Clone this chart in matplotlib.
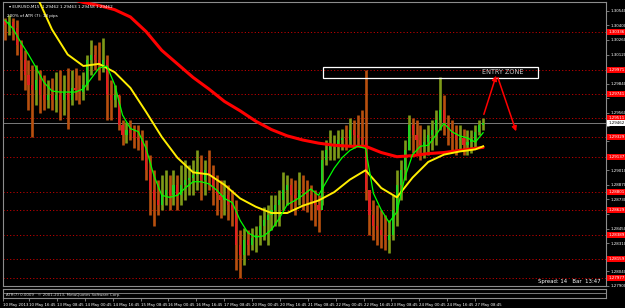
import numpy as np
import matplotlib
matplotlib.use("Agg")
import matplotlib.pyplot as plt
from matplotlib.patches import Rectangle
import matplotlib.transforms as mtransforms

# ---------------- data (EURUSD M15, each entry = one group of 9 bars) ----------------
first_open = 1.3045
high = [1.3047, 1.3050, 1.3047, 1.3045, 1.3026, 1.3016, 1.3007, 1.3002, 1.3002, 1.2997,
        1.2992, 1.2988, 1.2989, 1.2995, 1.2997, 1.2992, 1.2999, 1.2997, 1.2999, 1.2992,
        1.2995, 1.3012, 1.3026, 1.3021, 1.3024, 1.3028, 1.3012, 1.2988, 1.2983, 1.2973,
        1.2949, 1.2947, 1.2949, 1.2944, 1.2944, 1.2940, 1.2930, 1.2916, 1.2901, 1.2892,
        1.2896, 1.2901, 1.2896, 1.2901, 1.2896, 1.2906, 1.2911, 1.2906, 1.2911, 1.2920,
        1.2916, 1.2911, 1.2920, 1.2906, 1.2896, 1.2892, 1.2892, 1.2887, 1.2882, 1.2872,
        1.2844, 1.2846, 1.2844, 1.2846, 1.2848, 1.2858, 1.2866, 1.2868, 1.2877, 1.2877,
        1.2882, 1.2899, 1.2896, 1.2894, 1.2892, 1.2899, 1.2896, 1.2892, 1.2887, 1.2882,
        1.2877, 1.2920, 1.2930, 1.2940, 1.2935, 1.2940, 1.2941, 1.2944, 1.2951, 1.2949,
        1.2954, 1.2959, 1.2997, 1.2882, 1.2872, 1.2868, 1.2863, 1.2858, 1.2853, 1.2877,
        1.2901, 1.2911, 1.2930, 1.2954, 1.2951, 1.2949, 1.2944, 1.2941, 1.2944, 1.2949,
        1.2959, 1.2990, 1.2973, 1.2954, 1.2949, 1.2944, 1.2944, 1.2941, 1.2940, 1.2940,
        1.2944, 1.2949, 1.2951]
low = [1.3026, 1.3031, 1.3026, 1.3012, 1.2988, 1.2978, 1.2959, 1.2933, 1.2964, 1.2956,
       1.2959, 1.2961, 1.2959, 1.2957, 1.2949, 1.2954, 1.2941, 1.2964, 1.2968, 1.2965,
       1.2968, 1.2978, 1.2992, 1.2997, 1.2988, 1.2995, 1.2949, 1.2949, 1.2962, 1.2940,
       1.2925, 1.2927, 1.2930, 1.2922, 1.2920, 1.2911, 1.2892, 1.2858, 1.2848, 1.2858,
       1.2863, 1.2868, 1.2863, 1.2868, 1.2863, 1.2868, 1.2872, 1.2877, 1.2877, 1.2882,
       1.2872, 1.2877, 1.2882, 1.2868, 1.2858, 1.2855, 1.2858, 1.2853, 1.2848, 1.2805,
       1.2798, 1.2810, 1.2820, 1.2825, 1.2823, 1.2829, 1.2834, 1.2829, 1.2844, 1.2848,
       1.2848, 1.2863, 1.2868, 1.2863, 1.2858, 1.2868, 1.2863, 1.2861, 1.2853, 1.2848,
       1.2842, 1.2868, 1.2906, 1.2911, 1.2911, 1.2913, 1.2920, 1.2920, 1.2925, 1.2922,
       1.2925, 1.2925, 1.2872, 1.2839, 1.2834, 1.2829, 1.2826, 1.2825, 1.2822, 1.2834,
       1.2848, 1.2872, 1.2892, 1.2920, 1.2918, 1.2916, 1.2911, 1.2913, 1.2916, 1.2920,
       1.2925, 1.2940, 1.2935, 1.2925, 1.2920, 1.2916, 1.2920, 1.2916, 1.2916, 1.2918,
       1.2922, 1.2935, 1.2940]
close = [1.3040, 1.3043, 1.3037, 1.3021, 1.3007, 1.2992, 1.2983, 1.2978, 1.2988, 1.2973,
         1.2968, 1.2973, 1.2968, 1.2973, 1.2968, 1.2976, 1.2968, 1.2980, 1.2978, 1.2976,
         1.2983, 1.3007, 1.3012, 1.3007, 1.3002, 1.3007, 1.2973, 1.2968, 1.2973, 1.2944,
         1.2935, 1.2940, 1.2937, 1.2932, 1.2930, 1.2920, 1.2901, 1.2882, 1.2872, 1.2868,
         1.2877, 1.2882, 1.2877, 1.2887, 1.2877, 1.2887, 1.2892, 1.2894, 1.2896, 1.2901,
         1.2892, 1.2901, 1.2896, 1.2882, 1.2877, 1.2872, 1.2877, 1.2868, 1.2863, 1.2829,
         1.2820, 1.2834, 1.2829, 1.2836, 1.2839, 1.2848, 1.2853, 1.2858, 1.2863, 1.2868,
         1.2872, 1.2882, 1.2887, 1.2877, 1.2874, 1.2882, 1.2880, 1.2877, 1.2872, 1.2868,
         1.2863, 1.2911, 1.2920, 1.2925, 1.2925, 1.2930, 1.2932, 1.2930, 1.2940, 1.2935,
         1.2932, 1.2930, 1.2882, 1.2858, 1.2848, 1.2844, 1.2839, 1.2834, 1.2839, 1.2863,
         1.2887, 1.2901, 1.2920, 1.2944, 1.2935, 1.2930, 1.2925, 1.2928, 1.2935, 1.2940,
         1.2949, 1.2959, 1.2944, 1.2940, 1.2935, 1.2930, 1.2932, 1.2925, 1.2928, 1.2930,
         1.2938, 1.2944, 1.2946]

# fast MA (green), sampled every 2 groups
green_ma = [1.3045, 1.3037, 1.3024, 1.3012, 1.2999, 1.2985, 1.2977, 1.2976, 1.2976, 1.2976,
            1.2979, 1.2989, 1.2999, 1.3001, 1.2983, 1.2954, 1.2941, 1.2938, 1.2922, 1.2896,
            1.2877, 1.2875, 1.2877, 1.2884, 1.2890, 1.2890, 1.2888, 1.2882, 1.2874, 1.2870,
            1.2853, 1.2841, 1.2837, 1.2838, 1.2844, 1.2855, 1.2868, 1.2872, 1.2877, 1.2883,
            1.2877, 1.2890, 1.2903, 1.2913, 1.2920, 1.2924, 1.2922, 1.2879, 1.2863, 1.2851,
            1.2861, 1.2894, 1.2916, 1.2924, 1.2925, 1.2935, 1.2946, 1.2938, 1.2934, 1.2932,
            1.2928, 1.2937]
# medium MA (yellow) and slow MA (red), sampled every 4 groups plus the last group
yellow_ma = [1.3103, 1.3084, 1.3069, 1.3036, 1.3012, 1.3001, 1.3003, 1.2995, 1.2980, 1.2957,
             1.2933, 1.2913, 1.2899, 1.2897, 1.2887, 1.2874, 1.2866, 1.2860, 1.2860, 1.2867,
             1.2872, 1.2880, 1.2892, 1.2901, 1.2884, 1.2875, 1.2894, 1.2909, 1.2916, 1.2919,
             1.2921, 1.2924]
red_ma = [1.3098, 1.3088, 1.3080, 1.3072, 1.3066, 1.3062, 1.3059, 1.3055, 1.3048, 1.3034,
          1.3016, 1.3003, 1.2990, 1.2979, 1.2967, 1.2958, 1.2948, 1.2940, 1.2934, 1.2930,
          1.2927, 1.2925, 1.2924, 1.2924, 1.2918, 1.2914, 1.2915, 1.2917, 1.2918, 1.2920,
          1.2922, 1.2923]

level_prices = [1.30336, 1.29971, 1.29741, 1.29511, 1.29329, 1.29137,
                1.28801, 1.28629, 1.28389, 1.28159, 1.27977]
price_ticks = [1.27900, 1.28040, 1.28180, 1.28310, 1.28450, 1.28590, 1.28730, 1.28870,
               1.29010, 1.29150, 1.29290, 1.29430, 1.29560, 1.29700, 1.29840, 1.29980,
               1.30120, 1.30260, 1.30400, 1.30540]
time_labels = ["10 May 2013", "10 May 16:45", "13 May 08:45", "14 May 00:45", "14 May 16:45",
               "15 May 08:45", "16 May 00:45", "16 May 16:45", "17 May 08:45", "20 May 00:45",
               "20 May 16:45", "21 May 08:45", "22 May 00:45", "22 May 16:45", "23 May 08:45",
               "24 May 00:45", "24 May 16:45", "27 May 08:45"]
last_price = 1.29462
title_text = "EURUSD,M15  1.29462 1.29463 1.29458 1.29462"
atr_text = "200% of ATR (7): 18 pips"

# ---------------- layout ----------------
W, H = 625, 308
BPC = 9                 # bars per group
PX_PER_BAR = 0.4355
PX_PER_PRICE = 1 / 0.0000959
SMALL = 2.9

fig = plt.figure(figsize=(W / 100, H / 100), dpi=100, facecolor="black")
top_px, bot_px = 2, 286
ax = fig.add_axes([3 / W, 1 - bot_px / H, 603 / W, (bot_px - top_px) / H])
ax.set_facecolor("black")
ax.set_xlim(0, 603 / PX_PER_BAR)
ax.set_ylim(1.2790, 1.2790 + (bot_px - top_px) / PX_PER_PRICE)
for s in ax.spines.values():
    s.set_color("#8c8c8c")
    s.set_linewidth(0.8)

# horizontal levels
for lv in level_prices:
    ax.axhline(lv, color="#c00000", lw=0.7, ls=(0, (1.2, 2.2)), zorder=1)
ax.axhline(last_price, color="#7a7a7a", lw=0.7, zorder=1)

# candles (grouped)
n = len(close)
opens = [first_open] + close[:-1]
xc = np.arange(n) * BPC + BPC / 2
for i in range(n):
    up = close[i] >= opens[i]
    col = "#22d022" if up else "#e02020"
    wcol = "#7e9a18" if up else "#b8500e"
    ax.vlines(xc[i], low[i], high[i], color=wcol, lw=1.9, zorder=2)
    b0, b1 = sorted([opens[i], close[i]])
    ax.add_patch(Rectangle((xc[i] - 2.4, b0), 4.8, max(b1 - b0, 0.00004),
                           facecolor=col, edgecolor="none", zorder=3))

# moving averages
xg = np.arange(len(green_ma)) * 2 * BPC + BPC / 2
k_slow = list(range(0, n, 4)) + [n - 1]
xs = np.array(k_slow) * BPC + BPC / 2
ax.plot(xs, red_ma, color="#ff0000", lw=2.2, zorder=4, solid_capstyle="round")
ax.plot(xs, yellow_ma, color="#ffee00", lw=1.4, zorder=5)
ax.plot(xg, green_ma, color="#00ff00", lw=0.9, zorder=6)

# price axis on right (labels hidden under the level boxes are left blank, as in the terminal)
ax.yaxis.tick_right()
ax.set_yticks(price_ticks)
tick_txt = []
for v in price_ticks:
    covered = any(abs(v - lv) < 0.00042 for lv in level_prices + [last_price])
    tick_txt.append("" if covered else f"{v:.5f}")
ax.set_yticklabels(tick_txt, fontsize=SMALL, color="white")
ax.tick_params(axis="y", length=2, width=0.6, color="#8c8c8c", pad=1.0)
ax.set_xticks([])
trans = mtransforms.blended_transform_factory(ax.transAxes, ax.transData)
for lv in level_prices:
    ax.text(1.004, lv, f"{lv:.5f}", transform=trans, fontsize=SMALL, color="white",
            va="center", ha="left", clip_on=False, zorder=10,
            bbox=dict(facecolor="#ff0000", edgecolor="none", pad=0.9))
ax.text(1.004, last_price, f"{last_price:.5f}", transform=trans, fontsize=SMALL,
        color="black", va="center", ha="left", clip_on=False, zorder=11,
        bbox=dict(facecolor="white", edgecolor="none", pad=0.9))

# texts
ax.text(6 / 603, 1 - 3 / 284, "\u25be " + title_text, transform=ax.transAxes, fontsize=3.0,
        color="white", va="top", ha="left", zorder=12)
ax.text(4 / 603, 1 - 12 / 284, atr_text, transform=ax.transAxes, fontsize=3.0,
        color="white", va="top", ha="left", zorder=12)
ax.text(598 / 603, 4 / 284, "Spread: 14   Bar  13:47", transform=ax.transAxes, fontsize=3.9,
        color="white", va="center", ha="right", zorder=12)

# entry zone box and arrows
def px2x(px):
    return (px - 3) / PX_PER_BAR
def py2y(py):
    return 1.2790 + (bot_px - py) / PX_PER_PRICE
ax.add_patch(Rectangle((px2x(323), py2y(78)), px2x(538) - px2x(323), py2y(67) - py2y(78),
                       facecolor="none", edgecolor="white", lw=0.9, zorder=8))
ax.text(px2x(482), py2y(72.5), "ENTRY ZONE", fontsize=4.7, color="#c8c8c8",
        va="center", ha="left", zorder=9)
ax.annotate("", xy=(px2x(497), py2y(73)), xytext=(px2x(483), py2y(117)),
            arrowprops=dict(arrowstyle="-|>", color="#ff0000", lw=1.1, mutation_scale=7), zorder=9)
ax.annotate("", xy=(px2x(517), py2y(134)), xytext=(px2x(497), py2y(75)),
            arrowprops=dict(arrowstyle="-|>", color="#ff0000", lw=1.1, mutation_scale=7), zorder=9)

# indicator sub-window with time axis
ax2 = fig.add_axes([3 / W, 1 - 298 / H, 603 / W, 9 / H])
ax2.set_facecolor("black")
ax2.set_xlim(ax.get_xlim())
ax2.set_ylim(0, 1)
ax2.set_yticks([])
for s in ax2.spines.values():
    s.set_color("#8c8c8c")
    s.set_linewidth(0.8)
ax2.axhline(0.6, color="#8c8c8c", lw=0.6)
ax2.text(3 / 603, 0.3, "ATR(7) 0.0009   \u00a9 2001-2013, MetaQuotes Software Corp.",
         transform=ax2.transAxes, fontsize=2.8, color="#d0d0d0", va="center", ha="left")
tick_bars = [64 * i - 4 for i in range(len(time_labels))]
tick_bars[0] = 0
ax2.set_xticks(tick_bars)
ax2.set_xticklabels(time_labels, fontsize=2.8, color="white", ha="left")
ax2.tick_params(axis="x", length=2, width=0.6, color="#8c8c8c", pad=1.5)

fig.savefig("out.png", dpi=100, facecolor="black")
